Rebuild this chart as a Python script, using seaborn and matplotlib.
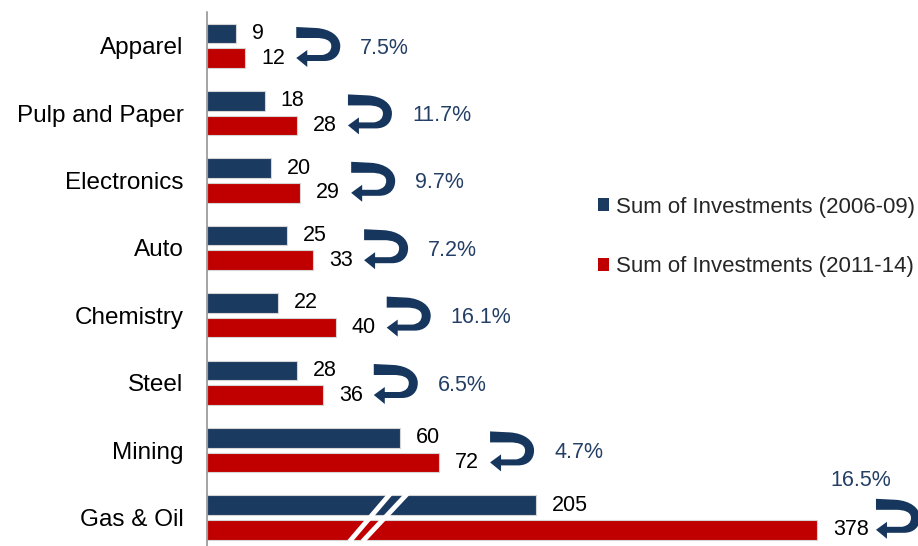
import numpy as np
import pandas as pd
import matplotlib
matplotlib.use("Agg")
import matplotlib.pyplot as plt
import matplotlib.transforms as mtransforms
from matplotlib.path import Path
from matplotlib.patches import PathPatch, Patch
from matplotlib.lines import Line2D
import seaborn as sns

# ---- data ---------------------------------------------------------------
categories = ["Apparel", "Pulp and Paper", "Electronics", "Auto",
              "Chemistry", "Steel", "Mining", "Gas & Oil"]
invest_2006_09 = [9, 18, 20, 25, 22, 28, 60, 205]
invest_2011_14 = [12, 28, 29, 33, 40, 36, 72, 378]
growth_labels = ["7.5%", "11.7%", "9.7%", "7.2%", "16.1%", "6.5%", "4.7%", "16.5%"]
series_names = ["Sum of Investments (2006-09)", "Sum of Investments (2011-14)"]

# ---- style --------------------------------------------------------------
BLUE = "#1B3A60"
RED = "#C00000"
ARROW = "#17365D"
PCT = "#243F66"
AXIS_GREY = "#8C8C8C"

sns.set_style("white")
plt.rcParams["font.family"] = ["Liberation Sans", "DejaVu Sans"]

# broken value axis: linear for the short bars, the long Gas & Oil bars shortened
SCALE_IN = [0, 100, 205, 378, 1000]
SCALE_OUT = [0, 100, 102, 189, 501.9]
BREAK_AT = 100


def fwd(x):
    return np.interp(x, SCALE_IN, SCALE_OUT)


def inv(y):
    return np.interp(y, SCALE_OUT, SCALE_IN)


PX_PER_UNIT = 3.23
W, H = 918, 546

fig = plt.figure(figsize=(W / 100, H / 100), dpi=100)
ax_top, cat_px = 12.0, 67.4
ax_h = cat_px * len(categories)
ax_left = 206.5
ax = fig.add_axes([ax_left / W, 1 - (ax_top + ax_h) / H, (W - ax_left) / W, ax_h / H])

df = pd.DataFrame({
    "sector": categories * 2,
    "period": [series_names[0]] * len(categories) + [series_names[1]] * len(categories),
    "value": invest_2006_09 + invest_2011_14,
})

sns.barplot(data=df, x="value", y="sector", hue="period", hue_order=series_names,
            order=categories, palette=[BLUE, RED], saturation=1, orient="h",
            width=0.73, gap=0.2, edgecolor="#D5D5D5", linewidth=0.8,
            legend=False, ax=ax)

ax.set_xscale("function", functions=(fwd, inv))
ax.set_xlim(0, float(inv((W - ax_left) / PX_PER_UNIT)))
ax.set_ylim(len(categories) - 0.5, -0.5)
ax.set_xlabel("")
ax.set_ylabel("")

# axis styling: only a grey left spine with ticks between categories
for side in ("top", "right", "bottom"):
    ax.spines[side].set_visible(False)
ax.spines["left"].set_color(AXIS_GREY)
ax.spines["left"].set_linewidth(1.1)
ax.set_xticks([])
ax.set_yticks(range(len(categories)), categories)
ax.set_yticks(np.arange(-0.5, len(categories), 1.0), minor=True)
ax.tick_params(axis="y", which="major", length=0, pad=16.5, labelsize=17.5,
               labelcolor="black")
ax.tick_params(axis="y", which="minor", length=6, width=1.1, color=AXIS_GREY,
               direction="out")

# value labels at the bar ends
for container, values in zip(ax.containers, [invest_2006_09, invest_2011_14]):
    ax.bar_label(container, labels=[str(v) for v in values], padding=11.5,
                 fontsize=15.5, color="black")

# curved growth arrow, drawn in pixel units with the head tip at the origin (y down)
arrow_verts = [
    (0, -31), (20, -30),
    (34, -29), (44, -22), (44, -12),
    (44, -3), (38, 3), (28, 3),
    (11, 3), (11, 9), (0, 0), (11, -8), (11, -3), (26, -3),
    (32, -4), (35, -7), (35, -12),
    (35, -18), (28, -20), (20, -20),
    (0, -20), (0, -31),
]
arrow_codes = [
    Path.MOVETO, Path.LINETO,
    Path.CURVE4, Path.CURVE4, Path.CURVE4,
    Path.CURVE4, Path.CURVE4, Path.CURVE4,
    Path.LINETO, Path.LINETO, Path.LINETO, Path.LINETO, Path.LINETO, Path.LINETO,
    Path.CURVE4, Path.CURVE4, Path.CURVE4,
    Path.CURVE4, Path.CURVE4, Path.CURVE4,
    Path.LINETO, Path.CLOSEPOLY,
]
arrow_path = Path(arrow_verts, arrow_codes)

red_offset = 0.73 / 4
for i, (v_new, pct) in enumerate(zip(invest_2011_14, growth_labels)):
    yc = i + red_offset
    tip_dx = 35 + 8 * len(str(v_new))
    trans = (mtransforms.Affine2D().translate(tip_dx, 0).scale(0.01, -0.01)
             + fig.dpi_scale_trans
             + mtransforms.ScaledTranslation(v_new, yc, ax.transData))
    ax.add_patch(PathPatch(arrow_path, transform=trans, facecolor=ARROW,
                           edgecolor="none", clip_on=False, zorder=4))
    if v_new > BREAK_AT:
        ax.annotate(pct, xy=(v_new, yc), xytext=((tip_dx - 15) * 0.72, 49 * 0.72),
                    textcoords="offset points", ha="center", va="center",
                    fontsize=15.5, color=PCT, annotation_clip=False)
    else:
        ax.annotate(pct, xy=(v_new, yc), xytext=((tip_dx + 64) * 0.72, 10 * 0.72),
                    textcoords="offset points", ha="left", va="center",
                    fontsize=15.5, color=PCT, annotation_clip=False)

# double-slash break mark across the shortened Gas & Oil bars
break_trans = (mtransforms.Affine2D().scale(0.01, -0.01) + fig.dpi_scale_trans
               + mtransforms.ScaledTranslation(50, len(categories) - 1, ax.transData))
for (x0, x1) in [(-18.5, 22.5), (-5.5, 39.5)]:
    ax.add_line(Line2D([x0, x1], [24, -24], transform=break_trans, color="white",
                       lw=3.5, solid_capstyle="butt", clip_on=False, zorder=5))

# legend on the right
handles = [Patch(facecolor=BLUE, edgecolor="none"), Patch(facecolor=RED, edgecolor="none")]
fig.legend(handles, series_names, loc="center left",
           bbox_to_anchor=(598 / W, 1 - 237 / H), frameon=False, fontsize=16,
           handlelength=0.5, handleheight=0.5, handletextpad=0.32,
           labelspacing=1.75, borderpad=0, borderaxespad=0)

fig.savefig("out.png", dpi=100)
